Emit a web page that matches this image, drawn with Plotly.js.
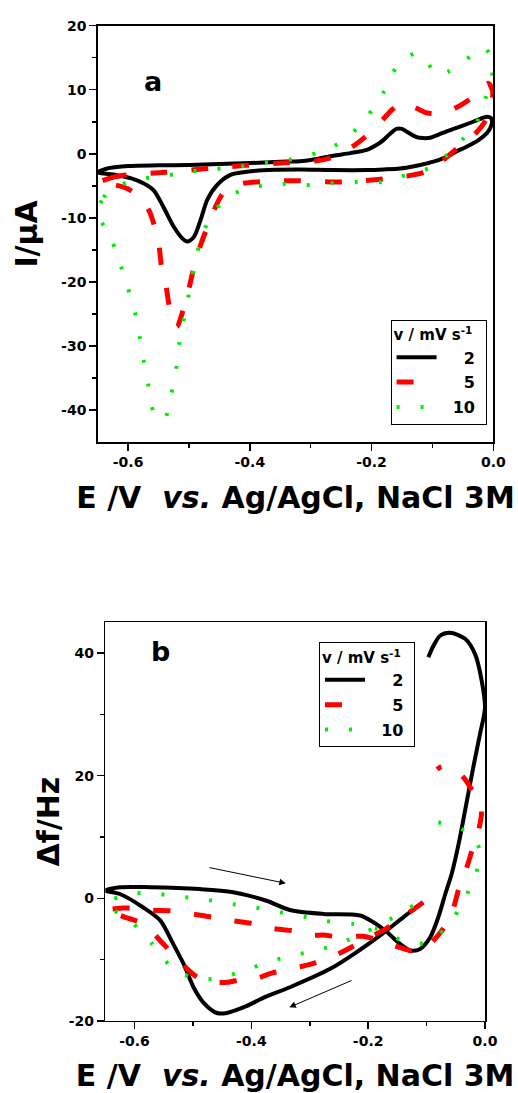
<!DOCTYPE html>
<html>
<head>
<meta charset="utf-8">
<script src="https://cdn.plot.ly/plotly-3.0.1.min.js"></script>
<style>html,body{margin:0;padding:0;background:#fff;}#chart{width:518px;height:1093px;}</style>
</head>
<body>
<div id="chart"></div>
<script>
// ---------- data (a): cyclic voltammograms, I / µA vs E / V ----------
var seriesNames = ['2', '5', '10'];

var cv2_E = [-0.65,-0.63,-0.60,-0.55,-0.50,-0.45,-0.40,-0.35,-0.318,-0.29,-0.263,-0.235,-0.208,-0.19,-0.181,-0.17,-0.159,-0.15,-0.142,-0.126,-0.115,-0.104,-0.09,-0.071,-0.05,-0.033,-0.02,-0.011,-0.004,-0.002,
             -0.005,-0.011,-0.025,-0.044,-0.06,-0.071,-0.09,-0.109,-0.13,-0.153,-0.18,-0.208,-0.263,-0.318,-0.36,-0.405,-0.432,-0.454,-0.47,-0.481,-0.492,-0.503,-0.511,-0.525,-0.542,-0.558,-0.575,-0.596,-0.62,-0.65];
var cv2_I = [-2.9,-2.2,-1.9,-1.8,-1.75,-1.6,-1.45,-1.25,-1.15,-0.8,-0.3,0.1,0.6,1.5,2.1,3.1,3.9,3.9,3.45,2.6,2.45,2.5,3.0,3.7,4.4,5.0,5.5,5.8,5.6,5.0,
             4.0,3.2,2.1,1.1,0.4,-0.2,-1.0,-1.5,-1.95,-2.3,-2.45,-2.55,-2.55,-2.45,-2.5,-2.8,-3.3,-4.9,-7.2,-10.35,-13.0,-13.7,-13.2,-11.4,-8.3,-5.7,-4.6,-3.8,-3.3,-2.9];

var cv5_E = [-0.65,-0.63,-0.61,-0.54,-0.47,-0.405,-0.34,-0.29,-0.26,-0.23,-0.20,-0.18,-0.165,-0.148,-0.13,-0.11,-0.09,-0.07,-0.05,-0.035,-0.018,-0.008,-0.001,
             -0.004,-0.014,-0.035,-0.06,-0.085,-0.11,-0.15,-0.19,-0.25,-0.32,-0.37,-0.41,-0.43,-0.445,-0.455,-0.47,-0.48,-0.49,-0.50,-0.51,-0.52,-0.527,-0.533,-0.538,-0.545,-0.55,-0.557,-0.565,-0.577,-0.60,-0.62,-0.65];
var cv5_I = [-4.6,-3.8,-3.4,-2.9,-2.3,-1.8,-1.4,-1.1,-0.4,1.2,3.5,5.5,7.0,8.0,7.3,6.4,6.3,6.8,7.8,8.8,10.5,11.0,9.7,
             7.5,5.0,2.6,0.8,-1.2,-2.8,-3.6,-4.0,-4.4,-4.2,-4.3,-4.6,-5.3,-6.3,-8.0,-11.5,-14.0,-17.0,-21.0,-24.5,-27.0,-26.0,-23.5,-20.5,-17.7,-13.8,-11.2,-9.0,-7.2,-5.5,-4.9,-4.6];

var cv10_E = [-0.65,-0.64,-0.626,-0.584,-0.542,-0.502,-0.459,-0.417,-0.377,-0.334,-0.288,-0.245,-0.209,-0.181,-0.159,-0.127,-0.11,-0.093,-0.075,-0.054,-0.016,-0.006,-0.001,
              -0.012,-0.027,-0.061,-0.100,-0.143,-0.184,-0.226,-0.268,-0.309,-0.351,-0.392,-0.434,-0.465,-0.482,-0.492,-0.500,-0.508,-0.516,-0.521,-0.529,-0.539,-0.545,-0.558,-0.566,-0.574,-0.581,-0.589,-0.601,-0.614,-0.629,-0.65];
var cv10_I = [-9.2,-6.8,-5.4,-4.0,-3.5,-2.8,-2.4,-2.0,-1.4,-0.9,0.2,2.1,5.6,9.5,13.5,15.7,14.5,12.3,12.8,14.0,16.6,15.5,12.8,
              8.9,5.0,1.2,-2.0,-3.3,-4.4,-4.4,-4.6,-4.9,-4.7,-5.2,-6.6,-9.9,-13.9,-17.7,-21.8,-25.7,-29.6,-33.6,-37.5,-41.3,-41.6,-40.4,-36.5,-32.5,-28.6,-24.7,-20.8,-16.9,-13.0,-9.2];

// ---------- data (b): EQCM frequency change, Δf / Hz vs E / V ----------
var fq2_E = [-0.106,-0.14,-0.18,-0.22,-0.265,-0.334,-0.374,-0.414,-0.442,-0.459,-0.482,-0.499,-0.516,-0.534,-0.556,-0.585,-0.625,-0.65,
             -0.625,-0.573,-0.488,-0.431,-0.374,-0.334,-0.277,-0.214,-0.191,-0.168,-0.146,-0.128,-0.111,-0.094,-0.080,-0.068,-0.057,-0.044,-0.031,-0.020,-0.0085,0.0,
             -0.0057,-0.017,-0.034,-0.060,-0.077,-0.088,-0.097];
var fq2_F = [-0.65,-3.1,-6.1,-8.8,-11.5,-14.5,-16.0,-17.8,-18.7,-18.7,-17.0,-14.5,-10.7,-7.4,-3.6,-1.5,0.7,1.26,
             1.8,1.8,1.5,1.0,-0.4,-1.9,-2.55,-2.8,-3.9,-5.5,-7.4,-8.5,-8.25,-6.4,-3.1,0.7,4.0,9.4,15.9,21.4,26.8,31.1,
             35.5,39.8,42.3,43.3,42.8,41.2,39.3];

var fq5_E = [-0.106,-0.125,-0.14,-0.17,-0.20,-0.25,-0.29,-0.33,-0.365,-0.39,-0.417,-0.44,-0.46,-0.49,-0.51,-0.525,-0.54,-0.555,-0.575,-0.591,-0.616,-0.63,-0.65,
             -0.62,-0.60,-0.574,-0.53,-0.505,-0.465,-0.436,-0.393,-0.365,-0.32,-0.296,-0.277,-0.248,-0.21,-0.183,-0.16,-0.14,-0.125,-0.11,-0.095,-0.074,-0.057,-0.045,-0.033,-0.02,-0.01,-0.006,
             -0.012,-0.02,-0.035,-0.049,-0.065,-0.077,-0.082];
var fq5_F = [-0.7,-2.0,-3.1,-5.0,-6.5,-9.0,-10.5,-11.5,-12.2,-13.0,-13.2,-13.7,-13.7,-13.0,-11.5,-9.9,-8.5,-7.0,-5.0,-3.9,-3.1,-2.6,-2.0,
             -1.6,-1.6,-1.9,-2.1,-2.5,-3.1,-3.6,-4.2,-4.9,-5.4,-6.0,-6.0,-6.3,-6.2,-6.8,-7.6,-8.2,-8.6,-8.4,-7.5,-5.3,-2.5,1.5,4.5,8.5,11.5,14.3,
             16.0,17.3,19.5,20.8,21.6,21.35,21.0];

var fq10_E = [-0.123,-0.143,-0.164,-0.184,-0.205,-0.247,-0.288,-0.329,-0.371,-0.413,-0.454,-0.495,-0.536,-0.571,-0.608,-0.648,
              -0.609,-0.568,-0.527,-0.485,-0.443,-0.402,-0.361,-0.32,-0.28,-0.225,-0.184,-0.143,-0.101,-0.061,-0.037,-0.017,-0.009,-0.02,-0.040,-0.080,-0.09];
var fq10_F = [-1.2,-2.3,-3.5,-4.6,-5.5,-7.3,-8.5,-9.3,-10.4,-11.8,-13.0,-13.1,-11.25,-7.3,-3.6,-0.9,
              0.7,0.8,0.3,-0.1,-0.8,-1.35,-2.1,-2.8,-3.6,-4.2,-5.0,-6.8,-7.3,-4.2,-0.4,3.5,7.7,10.0,11.3,12.4,12.6];

// arrows in panel (b): [tail E, tail f, head E, head f]
var arrowUpper = [-0.474, 5.05, -0.341, 2.44];
var arrowLower = [-0.226, -13.3, -0.335, -17.77];

// axis ticks and labels
var xTickVals = [-0.6, -0.4, -0.2, 0.0];
var xTickText = ['-0.6', '-0.4', '-0.2', '0.0'];
var xMinorVals = [-0.5, -0.3, -0.1];
var yaTickVals = [-40, -30, -20, -10, 0, 10, 20];
var yaTickText = ['-40', '-30', '-20', '-10', '0', '10', '20'];
var yaMinorVals = [-35, -25, -15, -5, 5, 15];
var ybTickVals = [-20, 0, 20, 40];
var ybTickText = ['-20', '0', '20', '40'];
var ybMinorVals = [-10, 10, 30];

// ---------- styling ----------
var F = 'DejaVu Sans';
var styles = [
  {color: '#000000', width: 4, dash: 'solid'},
  {color: '#ff0000', width: 5, dash: '17px,24px'},
  {color: '#00ee00', width: 4, dash: '3px,21px'}
];
var pads = ['\u00a0\u00a0\u00a0\u00a0', '\u00a0\u00a0\u00a0\u00a0', '\u00a0\u00a0'];
var tail = '\u00a0';

function tr(x, y, i, xa, ya, leg, grp) {
  return {
    x: x, y: y, type: 'scatter', mode: 'lines',
    xaxis: xa, yaxis: ya, legend: leg, legendgroup: grp + i, showlegend: true,
    name: pads[i] + seriesNames[i] + tail,
    line: {color: styles[i].color, width: styles[i].width, dash: styles[i].dash, shape: 'spline', smoothing: 0.8},
    hoverinfo: 'skip'
  };
}

var data = [
  tr(cv2_E, cv2_I, 0, 'x', 'y', 'legend', 'a'),
  tr(cv5_E, cv5_I, 1, 'x', 'y', 'legend', 'a'),
  tr(cv10_E, cv10_I, 2, 'x', 'y', 'legend', 'a'),
  tr(fq2_E, fq2_F, 0, 'x2', 'y2', 'legend2', 'b'),
  tr(fq5_E, fq5_F, 1, 'x2', 'y2', 'legend2', 'b'),
  tr(fq10_E, fq10_F, 2, 'x2', 'y2', 'legend2', 'b')
];

function xAxis(domain, anchor) {
  return {
    domain: domain, anchor: anchor, range: [-0.65, 0],
    tickmode: 'array', tickvals: xTickVals, ticktext: xTickText,
    ticks: 'outside', ticklen: 7, tickwidth: 1.5, tickcolor: '#000',
    minor: {tickmode: 'array', tickvals: xMinorVals, ticks: 'outside', ticklen: 4, tickwidth: 1.5, tickcolor: '#000', showgrid: false},
    showline: true, linecolor: '#000', linewidth: 1.5, mirror: true,
    showgrid: false, zeroline: false,
    tickfont: {family: F, size: 14, weight: 700, color: '#000'},
    title: {text: 'E /V\u00a0 <i>vs.</i> Ag/AgCl, NaCl 3M', font: {family: F, size: 30, weight: 700, color: '#000'}, standoff: 17}
  };
}
function yAxis(domain, anchor, range, tv, tt, mv, title, standoff) {
  return {
    domain: domain, anchor: anchor, range: range,
    tickmode: 'array', tickvals: tv, ticktext: tt,
    ticks: 'outside', ticklen: 7, tickwidth: 1.5, tickcolor: '#000',
    minor: {tickmode: 'array', tickvals: mv, ticks: 'outside', ticklen: 4, tickwidth: 1.5, tickcolor: '#000', showgrid: false},
    showline: true, linecolor: '#000', linewidth: 1.5, mirror: true,
    showgrid: false, zeroline: false,
    tickfont: {family: F, size: 14, weight: 700, color: '#000'},
    title: {text: title, font: {family: F, size: 30, weight: 700, color: '#000'}, standoff: standoff}
  };
}

function legendCfg(x, y) {
  return {
    x: x, y: y, xanchor: 'left', yanchor: 'top',
    bordercolor: '#000', borderwidth: 1, bgcolor: '#fff',
    font: {family: F, size: 16, weight: 700, color: '#000'},
    title: {text: 'v / mV s<sup>-1</sup>', font: {family: F, size: 15, weight: 700, color: '#000'}},
    itemwidth: 40, tracegroupgap: 1
  };
}

function arrowAnn(a, xref, yref) {
  return {
    x: a[2], y: a[3], ax: a[0], ay: a[1], xref: xref, yref: yref, axref: xref, ayref: yref,
    showarrow: true, arrowhead: 2, arrowsize: 1.3, arrowwidth: 1, arrowcolor: '#000', text: ''
  };
}

var layout = {
  width: 518, height: 1093,
  margin: {l: 0, r: 0, t: 0, b: 0},
  paper_bgcolor: '#fff', plot_bgcolor: '#fff',
  xaxis: xAxis([0.1886, 0.9523], 'y'),
  yaxis: yAxis([0.5956, 0.9765], 'x', [-45, 20], yaTickVals, yaTickText, yaMinorVals, 'I/\u03bcA', 14),
  xaxis2: xAxis([0.2033, 0.9363], 'y2'),
  yaxis2: yAxis([0.0659, 0.4307], 'x2', [-20, 45], ybTickVals, ybTickText, ybMinorVals, '\u0394f/Hz', 0),
  legend: legendCfg(0.754, 0.7073),
  legend2: legendCfg(0.6158, 0.4122),
  annotations: [
    {text: 'a', xref: 'paper', yref: 'paper', x: 0.2954, y: 0.925, xanchor: 'center', yanchor: 'middle', showarrow: false, font: {family: F, size: 27, weight: 700, color: '#000'}},
    {text: 'b', xref: 'paper', yref: 'paper', x: 0.309, y: 0.4035, xanchor: 'center', yanchor: 'middle', showarrow: false, font: {family: F, size: 27, weight: 700, color: '#000'}},
    arrowAnn(arrowUpper, 'x2', 'y2'),
    arrowAnn(arrowLower, 'x2', 'y2')
  ]
};

Plotly.newPlot('chart', data, layout, {staticPlot: true, displayModeBar: false});
</script>
</body>
</html>
